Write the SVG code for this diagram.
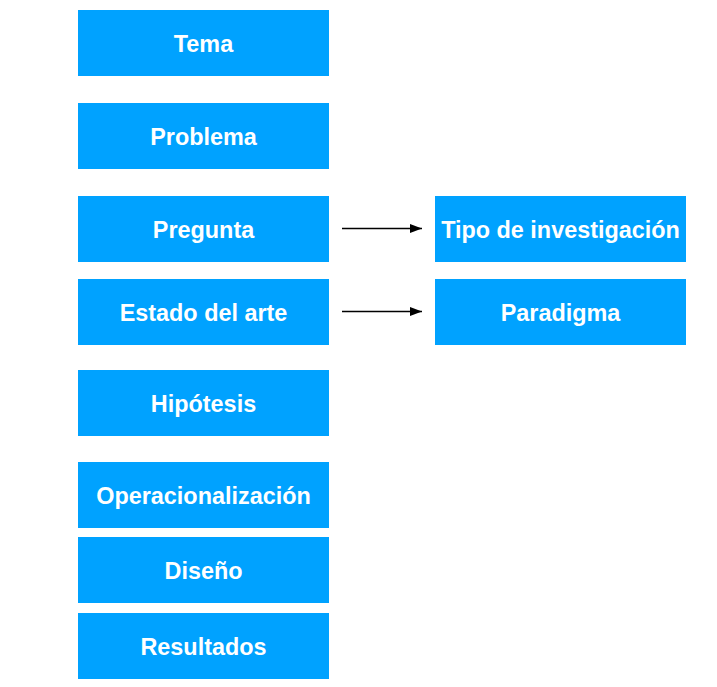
<svg xmlns="http://www.w3.org/2000/svg" width="717" height="687" viewBox="0 0 717 687">
<style>
.box{fill:#00A2FF}
.lbl{font-family:"Liberation Sans",Arial,sans-serif;font-weight:bold;font-size:23.4px;fill:#fff;text-anchor:middle}
.conn{stroke:#000;stroke-width:1.6;fill:none}
</style>
<defs>
<marker id="ah" markerWidth="13" markerHeight="10" refX="12" refY="5" orient="auto" markerUnits="userSpaceOnUse">
<path d="M0,0.5 L12,5 L0,9.5 Z" fill="#000"/>
</marker>
</defs>
<rect width="717" height="687" fill="#fff"/>
<g id="tema"><rect class="box" x="78" y="10" width="251" height="66"/><text class="lbl" x="203.5" y="51.5">Tema</text></g>
<g id="problema"><rect class="box" x="78" y="103" width="251" height="66"/><text class="lbl" x="203.5" y="144.5">Problema</text></g>
<g id="pregunta"><rect class="box" x="78" y="196" width="251" height="66"/><text class="lbl" x="203.5" y="237.5">Pregunta</text></g>
<g id="estado"><rect class="box" x="78" y="279" width="251" height="66"/><text class="lbl" x="203.5" y="320.5">Estado del arte</text></g>
<g id="hipotesis"><rect class="box" x="78" y="370" width="251" height="66"/><text class="lbl" x="203.5" y="411.5">Hipótesis</text></g>
<g id="operacionalizacion"><rect class="box" x="78" y="462" width="251" height="66"/><text class="lbl" x="203.5" y="503.5">Operacionalización</text></g>
<g id="diseno"><rect class="box" x="78" y="537" width="251" height="66"/><text class="lbl" x="203.5" y="578.5">Diseño</text></g>
<g id="resultados"><rect class="box" x="78" y="613" width="251" height="66"/><text class="lbl" x="203.5" y="654.5">Resultados</text></g>
<g id="tipo"><rect class="box" x="435" y="196" width="251" height="66"/><text class="lbl" x="560.5" y="237.5">Tipo de investigación</text></g>
<g id="paradigma"><rect class="box" x="435" y="279" width="251" height="66"/><text class="lbl" x="560.5" y="320.5">Paradigma</text></g>
<g id="connectors">
<line class="conn" x1="342" y1="228.5" x2="422" y2="228.5" marker-end="url(#ah)"/>
<line class="conn" x1="342" y1="311.5" x2="422" y2="311.5" marker-end="url(#ah)"/>
</g>
</svg>
